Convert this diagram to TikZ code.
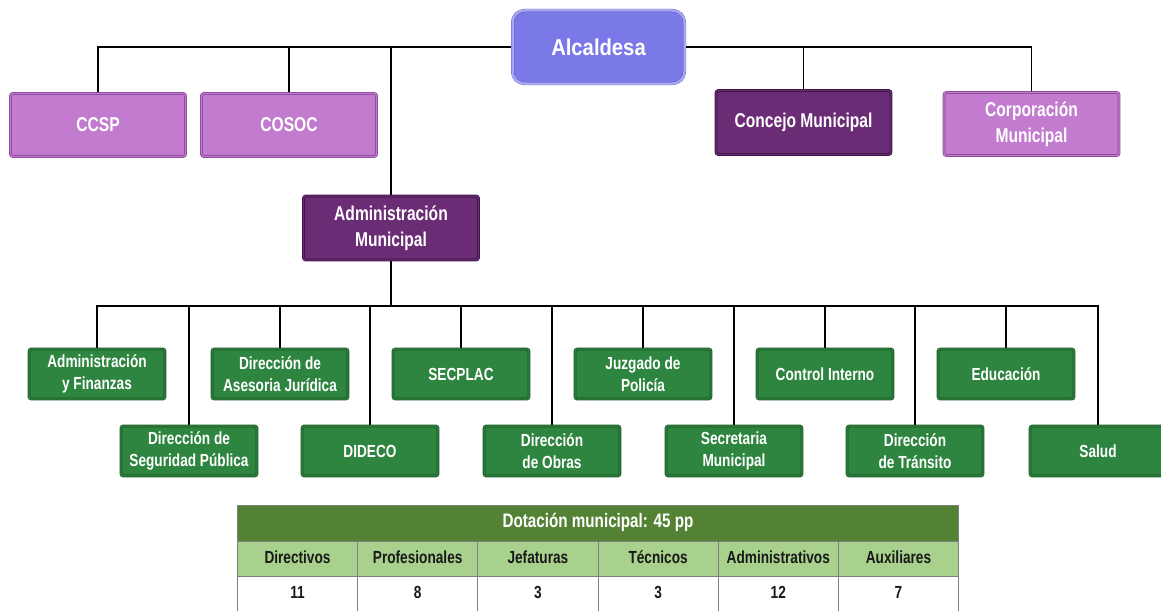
\documentclass[tikz,border=0pt]{standalone}
\usepackage{fontspec}
\setmainfont{Liberation Sans}
\newfontfamily\narrowfont{Liberation Sans}[FakeStretch=0.78]
\newfontfamily\alcfont{Liberation Sans}[FakeStretch=0.88]
\usetikzlibrary{backgrounds}
\definecolor{alcfill}{HTML}{7B78E8}
\definecolor{alcline}{HTML}{3F3B9A}
\definecolor{alcglow}{HTML}{A9A6F5}
\definecolor{lpfill}{HTML}{C27BCE}
\definecolor{lpline}{HTML}{8A4796}
\definecolor{dpfill}{HTML}{6A2C74}
\definecolor{dpline}{HTML}{3A1442}
\definecolor{gfill}{HTML}{2E8540}
\definecolor{gline}{HTML}{1B5426}
\definecolor{thead}{HTML}{548235}
\definecolor{trow}{HTML}{A9D18E}
\definecolor{tline}{HTML}{7F7F7F}
\tikzset{
  box/.style={rectangle, rounded corners=2.5pt, line width=0.8pt, double distance=1.3pt,
    inner sep=0pt, align=center, text=white, font=\narrowfont\fontsize{20}{25.5}\selectfont\bfseries},
  lpbox/.style={box, draw=lpline, double=lpfill, fill=lpfill, minimum width=175pt, minimum height=63pt},
  dpbox/.style={box, draw=dpline, double=dpfill, fill=dpfill, minimum width=175pt, minimum height=64pt},
  gbox/.style={box, draw=gline, double=gfill, fill=gfill, minimum width=136pt, minimum height=50pt,
    font=\narrowfont\fontsize{17.5}{22.5}\selectfont\bfseries},
  conn/.style={line width=1.6pt, black},
  cell/.style={rectangle, draw=tline, line width=0.8pt, minimum width=120.2pt, minimum height=35pt, inner sep=0pt,
    text height=12.5pt, text depth=3.5pt,
    font=\narrowfont\fontsize{17.5}{20}\selectfont\bfseries, text=black!90}
}
\begin{document}
\begin{tikzpicture}[x=1pt,y=-1pt]
\useasboundingbox (0,0) rectangle (1161,610);
% top
\node[rectangle, rounded corners=12pt, line width=0.8pt, draw=alcline, double=alcfill, double distance=1.4pt,
  fill=alcfill, minimum width=172pt, minimum height=73pt, inner sep=0pt, text=white,
  font=\alcfont\fontsize{23}{26}\selectfont\bfseries, postaction={draw=alcglow, line width=2.5pt, double=none, rounded corners=13pt}] (alc) at (598.5,47) {Alcaldesa};
\node[lpbox] (ccsp) at (98,125) {CCSP};
\node[lpbox] (cosoc) at (289,125) {COSOC};
\node[dpbox] (concejo) at (803.5,122.5) {Concejo Municipal};
\node[lpbox] (corp) at (1031.5,124) {Corporación\\Municipal};
\node[dpbox] (adm) at (391,228) {Administración\\Municipal};
% departments upper row
\node[gbox] (fin) at (97,374) {Administración\\y Finanzas};
\node[gbox] (jur) at (280,374) {Dirección de\\Asesoria Jurídica};
\node[gbox] (secplac) at (461,374) {SECPLAC};
\node[gbox] (juz) at (643,374) {Juzgado de\\Policía};
\node[gbox] (ci) at (825,374) {Control Interno};
\node[gbox] (edu) at (1006,374) {Educación};
% lower row
\node[gbox] (seg) at (189,451) {Dirección de\\Seguridad Pública};
\node[gbox] (dideco) at (370,451) {DIDECO};
\node[gbox] (obras) at (552,451) {Dirección\\de Obras};
\node[gbox] (secre) at (734,451) {Secretaria\\Municipal};
\node[gbox] (tran) at (915,451) {Dirección\\de Tránsito};
\node[gbox] (salud) at (1098,451) {Salud};
\coordinate (bus) at (391,306);
\begin{scope}[on background layer]
  \foreach \n in {ccsp,cosoc,adm,concejo,corp}{\draw[conn] (alc) -| (\n.north);}
  \draw[conn] (adm.south) -- (bus);
  \foreach \n in {fin,jur,secplac,juz,ci,edu,seg,dideco,obras,secre,tran,salud}{\draw[conn] (bus) -| (\n.north);}
\end{scope}
% table
\node[cell, fill=thead, minimum width=721.2pt, minimum height=36pt, text=white, anchor=north west,
  font=\narrowfont\fontsize{19.5}{22}\selectfont\bfseries] (thd) at (237,505) {Dotación municipal: 45 pp};
\foreach \t [count=\i] in {Directivos,Profesionales,Jefaturas,Técnicos,Administrativos,Auxiliares}{
  \node[cell, fill=trow, anchor=north west] (h\i) at ({237+120.2*(\i-1)},541) {\t};
}
\foreach \v [count=\i] in {11,8,3,3,12,7}{
  \node[cell, fill=white, anchor=north west] (v\i) at ({237+120.2*(\i-1)},576) {\v};
}
\end{tikzpicture}
\end{document}
